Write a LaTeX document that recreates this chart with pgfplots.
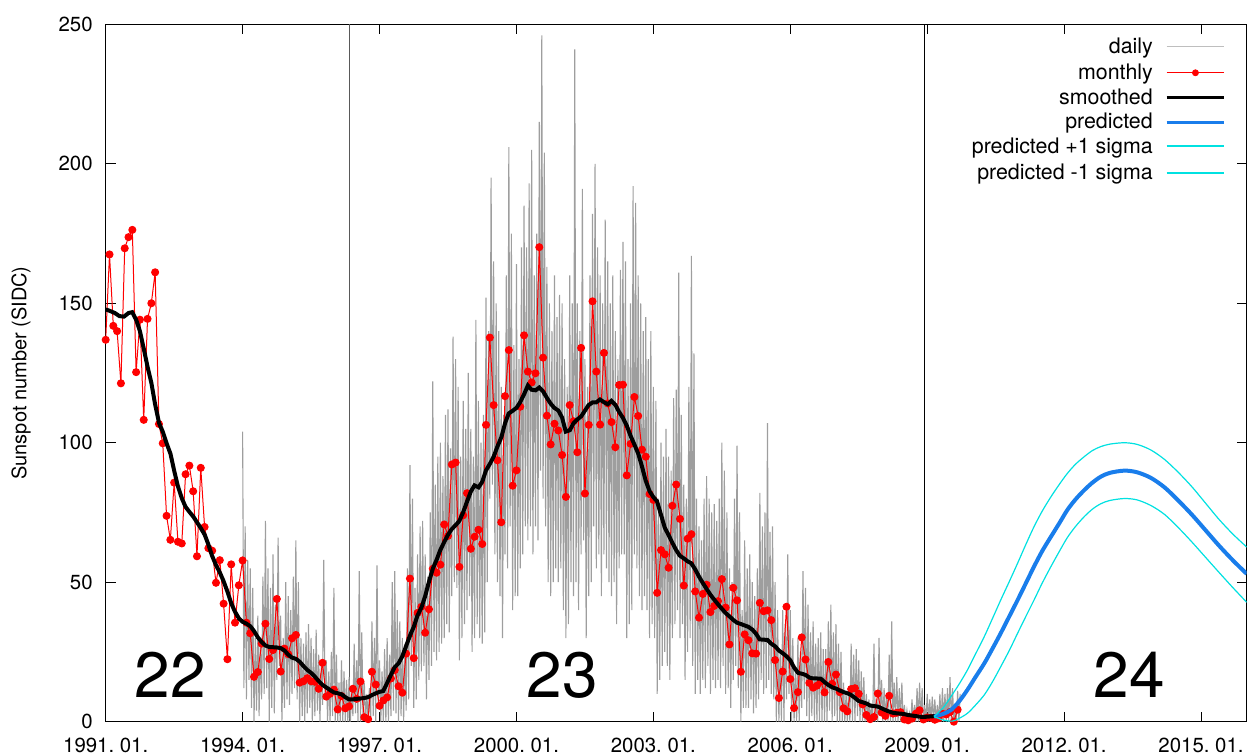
\documentclass[border=0pt]{standalone}
\usepackage{fontspec}
\setmainfont{TeX Gyre Heros}
\usepackage{pgfplots}
\usepackage{pgfplotstable}
\pgfplotsset{compat=1.18}
\definecolor{dailygray}{RGB}{158,158,158}
\definecolor{legendgray}{RGB}{190,190,190}
\definecolor{predblue}{RGB}{25,125,235}
\definecolor{sigcyan}{RGB}{0,225,225}

\pgfplotstableread[row sep=\\]{
y\\
104\\12\\70\\8\\58\\15\\55\\5\\48\\0\\30\\4\\38\\2\\30\\8\\52\\10\\72\\12\\55\\0\\48\\5\\60\\3\\42\\15\\66\\20\\38\\0\\30\\5\\50\\8\\
45\\6\\40\\10\\52\\12\\65\\8\\50\\0\\30\\2\\28\\0\\32\\3\\35\\5\\30\\0\\26\\2\\33\\4\\24\\0\\20\\6\\58\\8\\22\\0\\18\\0\\25\\2\\
48\\0\\24\\0\\14\\0\\22\\0\\18\\0\\15\\0\\16\\0\\12\\2\\28\\3\\22\\0\\54\\0\\32\\2\\14\\0\\10\\0\\12\\0\\36\\2\\30\\0\\56\\6\\
22\\0\\18\\0\\26\\0\\30\\0\\24\\2\\50\\4\\54\\3\\40\\0\\36\\2\\30\\0\\28\\4\\55\\8\\92\\20\\80\\5\\48\\8\\60\\15\\70\\18\\72\\20\\
60\\8\\52\\15\\75\\20\\122\\25\\85\\22\\95\\25\\100\\28\\88\\30\\110\\35\\112\\32\\98\\45\\138\\50\\130\\48\\120\\22\\95\\30\\115\\35\\105\\40\\125\\45\\
105\\25\\95\\30\\144\\35\\115\\30\\100\\28\\110\\32\\152\\50\\140\\80\\195\\85\\165\\60\\150\\50\\140\\45\\120\\30\\110\\60\\160\\55\\206\\70\\175\\40\\135\\45\\
164\\45\\130\\55\\170\\60\\185\\70\\170\\65\\193\\70\\205\\60\\160\\70\\175\\65\\215\\90\\246\\80\\204\\70\\163\\50\\150\\45\\140\\50\\160\\55\\145\\50\\153\\55\\
150\\40\\130\\30\\120\\35\\160\\50\\150\\45\\241\\50\\150\\40\\140\\60\\191\\65\\130\\30\\120\\45\\160\\50\\182\\70\\200\\55\\170\\60\\160\\45\\150\\60\\180\\55\\
165\\50\\150\\45\\160\\50\\140\\35\\130\\55\\162\\60\\172\\60\\165\\30\\130\\35\\150\\40\\192\\60\\186\\55\\160\\45\\150\\40\\140\\45\\145\\40\\130\\30\\140\\35\\
120\\30\\115\\10\\80\\15\\100\\20\\95\\25\\105\\20\\95\\15\\90\\30\\116\\35\\119\\40\\161\\30\\110\\35\\85\\15\\80\\25\\120\\30\\167\\20\\132\\10\\80\\15\\
70\\10\\65\\15\\80\\12\\88\\20\\80\\10\\75\\15\\78\\12\\72\\15\\80\\12\\100\\20\\90\\10\\75\\12\\55\\5\\50\\15\\80\\20\\99\\12\\75\\0\\40\\5\\
65\\5\\55\\5\\60\\8\\50\\3\\45\\5\\55\\8\\82\\15\\70\\10\\75\\12\\107\\15\\68\\10\\70\\8\\50\\0\\40\\0\\25\\0\\40\\0\\35\\8\\60\\10\\
40\\0\\30\\0\\18\\0\\30\\0\\25\\5\\54\\8\\48\\2\\42\\0\\32\\2\\36\\0\\28\\0\\30\\0\\32\\0\\26\\0\\26\\0\\36\\4\\42\\0\\32\\2\\
35\\0\\28\\0\\25\\0\\14\\0\\10\\0\\12\\0\\28\\0\\24\\0\\26\\2\\22\\0\\18\\0\\16\\0\\10\\0\\8\\0\\6\\0\\28\\0\\8\\0\\30\\2\\
15\\0\\12\\0\\10\\0\\24\\0\\36\\0\\14\\0\\16\\0\\12\\0\\14\\0\\6\\0\\4\\0\\3\\0\\8\\0\\6\\0\\12\\0\\14\\0\\12\\0\\6\\0\\
10\\0\\8\\0\\9\\0\\8\\0\\6\\0\\10\\0\\12\\0\\10\\0\\12\\0\\16\\0\\12\\0\\5\\0\\11\\0\\10\\
}\dailydata

\pgfplotstableread[row sep=\\]{
y\\
136.9\\167.5\\141.9\\140.0\\121.3\\169.7\\173.7\\176.3\\125.3\\144.1\\108.2\\144.4\\
150.0\\161.1\\106.7\\99.8\\73.8\\65.2\\85.7\\64.5\\63.9\\88.7\\91.8\\82.6\\
59.3\\91.0\\69.8\\62.2\\61.3\\49.8\\57.9\\42.3\\22.4\\56.4\\35.5\\48.9\\
57.8\\35.5\\31.7\\16.1\\17.8\\28.0\\35.1\\22.5\\25.7\\44.0\\18.0\\26.2\\
24.2\\29.9\\31.1\\14.0\\14.5\\15.6\\14.5\\14.3\\11.8\\21.1\\9.0\\10.0\\
11.5\\4.4\\9.2\\4.8\\5.5\\11.8\\8.2\\14.4\\1.6\\0.9\\17.9\\13.3\\
5.7\\7.6\\8.7\\15.5\\18.5\\12.7\\10.4\\24.4\\51.3\\22.8\\39.0\\41.2\\
31.9\\40.3\\54.8\\53.4\\56.3\\70.7\\66.6\\92.2\\92.9\\55.5\\74.0\\81.9\\
62.0\\66.3\\68.8\\63.7\\106.4\\137.7\\113.5\\93.7\\71.5\\116.7\\133.2\\84.6\\
90.1\\112.9\\138.5\\125.5\\121.6\\124.9\\170.1\\130.5\\109.7\\99.4\\106.8\\104.4\\
95.6\\80.6\\113.5\\107.7\\96.6\\134.0\\81.8\\106.4\\150.7\\125.5\\106.5\\132.2\\
114.1\\107.4\\98.4\\120.7\\120.8\\88.3\\99.6\\116.4\\109.6\\97.5\\95.0\\81.6\\
79.5\\46.2\\61.5\\60.0\\55.2\\77.4\\85.0\\72.7\\48.8\\65.6\\67.2\\46.7\\
37.3\\45.8\\49.1\\39.3\\41.5\\43.2\\51.1\\40.9\\27.7\\48.0\\43.5\\17.9\\
31.3\\29.2\\24.5\\24.4\\42.6\\39.6\\39.9\\36.4\\22.1\\8.5\\18.0\\41.2\\
15.3\\4.9\\10.6\\30.2\\22.3\\13.9\\12.2\\12.9\\14.4\\10.5\\21.4\\13.6\\
16.9\\10.6\\4.8\\3.7\\11.7\\12.0\\10.0\\6.2\\2.4\\0.9\\1.7\\10.1\\
3.3\\2.1\\9.3\\2.9\\3.2\\3.4\\0.8\\0.5\\1.1\\2.9\\4.1\\0.8\\
1.5\\1.4\\0.7\\1.2\\2.9\\2.6\\3.5\\0.0\\4.3\\
}\monthlydata

\pgfplotstableread{
x y
1991.0 147.8
1991.1 147.2
1991.2 146.5
1991.3 145.4
1991.4 145.2
1991.5 146.5
1991.58 146.8
1991.67 144
1991.75 140
1991.83 134
1991.92 127
1992.0 121.5
1992.08 114
1992.17 107
1992.25 104
1992.33 100
1992.42 96
1992.5 90
1992.58 84.5
1992.67 80
1992.75 77
1992.83 75.3
1992.92 73.5
1993.0 71.5
1993.08 69.5
1993.17 67
1993.25 63.5
1993.33 59.5
1993.42 56
1993.5 53.5
1993.58 50.5
1993.67 46.5
1993.75 42.5
1993.83 39.5
1993.92 37
1994.0 35.8
1994.08 35.2
1994.17 34.2
1994.25 32.5
1994.33 30.3
1994.42 28.5
1994.5 27.3
1994.58 26.8
1994.67 26.7
1994.75 26.6
1994.83 26.4
1994.92 25.5
1995.0 24.0
1995.08 23.0
1995.17 22.5
1995.25 21.5
1995.33 20
1995.42 18.5
1995.5 17.5
1995.58 16.2
1995.67 14.5
1995.75 13.2
1995.83 12.3
1995.92 11.3
1996.0 10.5
1996.08 10.2
1996.17 9.8
1996.25 8.8
1996.33 8.0
1996.42 8.0
1996.5 8.2
1996.58 8.3
1996.67 8.5
1996.75 8.8
1996.83 9.5
1996.92 10.2
1997.0 10.7
1997.08 11
1997.17 14
1997.25 16.8
1997.33 19.5
1997.42 21
1997.5 23.5
1997.58 27
1997.67 31
1997.75 34
1997.83 38
1997.92 41
1998.0 45
1998.08 50
1998.17 55
1998.25 58
1998.33 61.5
1998.42 64.5
1998.5 67
1998.58 69
1998.67 70.5
1998.75 72
1998.83 75
1998.92 79
1999.0 82.5
1999.08 84.7
1999.17 84
1999.25 86
1999.33 90
1999.42 92.5
1999.5 95
1999.58 98.5
1999.67 102
1999.75 107
1999.83 110.5
1999.92 111.5
2000.0 112.5
2000.08 114.5
2000.17 117.5
2000.25 120.5
2000.33 119
2000.42 118.8
2000.5 119.8
2000.58 118.5
2000.67 116
2000.75 114
2000.83 112.5
2000.92 111.5
2001.0 109
2001.08 104
2001.17 104.5
2001.25 107
2001.33 108.3
2001.42 109.5
2001.5 111.5
2001.58 113.5
2001.67 114.5
2001.75 114.5
2001.83 115.5
2001.92 114.5
2002.0 113.8
2002.08 115
2002.17 113.5
2002.25 111
2002.33 109
2002.42 106
2002.5 102.5
2002.58 99.5
2002.67 96
2002.75 91.5
2002.83 86.5
2002.92 82.5
2003.0 80.5
2003.08 79
2003.17 74
2003.25 69.5
2003.33 67
2003.42 64
2003.5 61.5
2003.58 59.5
2003.67 58.5
2003.75 57.5
2003.83 56.8
2003.92 54.5
2004.0 52
2004.08 49.8
2004.17 47.5
2004.25 45.5
2004.33 43.8
2004.42 42
2004.5 40.5
2004.58 39
2004.67 37.7
2004.75 36.5
2004.83 35.5
2004.92 35
2005.0 34.5
2005.08 34
2005.17 33
2005.25 31.5
2005.33 29.5
2005.42 29.4
2005.5 29.3
2005.58 28
2005.67 27
2005.75 25.5
2005.83 24.6
2005.92 23.4
2006.0 22
2006.08 19.5
2006.17 17.5
2006.25 17.2
2006.33 16.8
2006.42 15.8
2006.5 15.5
2006.58 15.5
2006.67 15.4
2006.75 14.2
2006.83 13.2
2006.92 12.3
2007.0 11.9
2007.08 11.2
2007.17 10.6
2007.25 10.2
2007.33 9.6
2007.42 8.5
2007.5 7.4
2007.58 7.0
2007.67 6.5
2007.75 5.8
2007.83 5.6
2007.92 5.4
2008.0 4.8
2008.08 4.2
2008.17 3.6
2008.25 3.2
2008.33 3.0
2008.42 2.9
2008.5 2.7
2008.58 2.4
2008.67 2.2
2008.75 2.0
2008.83 1.8
2008.92 1.7
2009.0 1.8
2009.08 1.9
2009.17 2.0
}\smootheddata

\pgfplotstableread{
x y
2009.15 1.8
2009.35 2.8
2009.52 4.2
2009.7 7.3
2009.88 11.4
2010.05 15.8
2010.25 20.9
2010.43 26.2
2010.61 31.7
2010.8 37.8
2010.98 43.6
2011.16 49.6
2011.34 55.6
2011.52 61.2
2011.71 66.3
2011.9 71.3
2012.07 75.9
2012.25 79.7
2012.44 83.0
2012.62 85.7
2012.8 87.8
2013.0 89.2
2013.32 90.0
2013.6 89.4
2013.9 87.4
2014.2 84.0
2014.5 79.3
2014.8 74.2
2015.1 68.6
2015.4 63.0
2015.7 57.8
2016.0 53.0
}\predicteddata

\pgfplotstableread{
x y
2009.15 1.8
2009.35 5
2009.52 9
2009.7 13.5
2009.88 18.5
2010.05 24
2010.25 30.5
2010.43 37
2010.61 43.6
2010.8 50.3
2010.98 56.8
2011.16 63.5
2011.34 69.9
2011.52 75.5
2011.71 80.6
2011.9 85.2
2012.07 89
2012.25 92.3
2012.44 95
2012.62 97.2
2012.8 98.6
2013.0 99.5
2013.32 100
2013.6 99.4
2013.9 97.4
2014.2 94
2014.5 89.4
2014.8 84.2
2015.1 78.3
2015.4 72.4
2015.7 67.2
2016.0 62.6
}\upsigdata

\pgfplotstableread{
x y
2009.15 1.8
2009.35 0.6
2009.55 0.2
2009.7 1.2
2009.88 3
2010.05 5.8
2010.25 9.6
2010.43 14.3
2010.61 19.7
2010.8 25.6
2010.98 31.7
2011.16 37.7
2011.34 43.6
2011.52 49.7
2011.71 55.6
2011.9 61.2
2012.07 66.0
2012.25 70.0
2012.44 73.5
2012.62 76.2
2012.8 78.1
2013.0 79.3
2013.32 80
2013.6 79.5
2013.9 77.5
2014.2 74.3
2014.5 69.6
2014.8 64.4
2015.1 58.9
2015.4 53.4
2015.7 48.0
2016.0 42.8
}\lowsigdata

\begin{document}
\frenchspacing
\begin{tikzpicture}
\begin{axis}[
  scale only axis, width=570.5pt, height=348.7pt,
  xmin=1991, xmax=2016, ymin=0, ymax=250,
  xtick={1991,1994,...,2015},
  xticklabels={1991. 01.,1994. 01.,1997. 01.,2000. 01.,2003. 01.,2006. 01.,2009. 01.,2012. 01.,2015. 01.},
  minor x tick num=2,
  ytick={0,50,...,250},
  yticklabels={0,50,100,150,200,250},
  tick pos=both, tick align=inside,
  major tick length=5pt, minor tick length=2.5pt,
  tick style={black, line width=0.5pt},
  axis line style={line width=0.6pt},
  tick label style={font=\fontsize{10.2}{12}\selectfont},
  label style={font=\fontsize{10.2}{12}\selectfont},
  xticklabel style={yshift=-4.7pt},
  yticklabel style={xshift=-3pt},
  ylabel={Sunspot number (SIDC)},
  every axis y label/.style={at={([xshift=-42.3pt]axis description cs:0,0.5)}, rotate=90, anchor=center},
  clip mode=individual,
]
\addplot[black!65, line width=0.5pt] coordinates {(1996.34,0) (1996.34,250)};
\addplot[black, line width=0.5pt] coordinates {(2008.94,0) (2008.94,250)};

\addplot[dailygray, line width=0.55pt] table[x expr=1994+\coordindex/36, y=y] {\dailydata};
\addplot[red, line width=0.5pt, mark=*, mark size=1.75pt, mark options={fill=red, draw=red}] table[x expr=1991+\coordindex/12, y=y] {\monthlydata};
\addplot[black, line width=2pt] table[x=x, y=y] {\smootheddata};
\addplot[predblue, line width=2pt, smooth] table[x=x, y=y] {\predicteddata};
\addplot[sigcyan, line width=0.6pt, smooth] table[x=x, y=y] {\upsigdata};
\addplot[sigcyan, line width=0.6pt, smooth] table[x=x, y=y] {\lowsigdata};

% key (legend) samples
\addplot[legendgray, line width=0.6pt] coordinates {(2014.246,241.94) (2015.509,241.94)};
\addplot[red, line width=0.6pt] coordinates {(2014.246,232.62) (2015.509,232.62)};
\addplot[red, only marks, mark=*, mark size=1.5pt, mark options={fill=red, draw=red}] coordinates {(2014.877,232.62)};
\addplot[black, line width=1.7pt] coordinates {(2014.246,223.66) (2015.509,223.66)};
\addplot[predblue, line width=1.7pt] coordinates {(2014.246,214.84) (2015.509,214.84)};
\addplot[sigcyan, line width=1pt] coordinates {(2014.246,206.2) (2015.509,206.2)};
\addplot[sigcyan, line width=0.85pt] coordinates {(2014.246,196.77) (2015.509,196.77)};

\begin{scope}[every node/.style={anchor=base east, inner sep=0pt, font=\fontsize{10.7}{12.6}\selectfont}]
\node at (axis cs:2013.95,239.57) {daily};
\node at (axis cs:2013.95,230.25) {monthly};
\node at (axis cs:2013.95,221.29) {smoothed};
\node at (axis cs:2013.95,212.47) {predicted};
\node at (axis cs:2013.95,203.51) {predicted +1 sigma};
\node at (axis cs:2013.95,194.40) {predicted -1 sigma};
\end{scope}

\node[font=\fontsize{32}{38}\selectfont, inner sep=0pt] at (axis cs:1992.41,16.7) {22};
\node[font=\fontsize{32}{38}\selectfont, inner sep=0pt] at (axis cs:2001.01,16.7) {23};
\node[font=\fontsize{32}{38}\selectfont, inner sep=0pt] at (axis cs:2013.43,16.7) {24};
\end{axis}
\pgfresetboundingbox
\path[use as bounding box] ([xshift=-52.85pt,yshift=-16.15pt]current axis.south west) rectangle ([xshift=0.65pt,yshift=12.15pt]current axis.north east);
\end{tikzpicture}
\end{document}
